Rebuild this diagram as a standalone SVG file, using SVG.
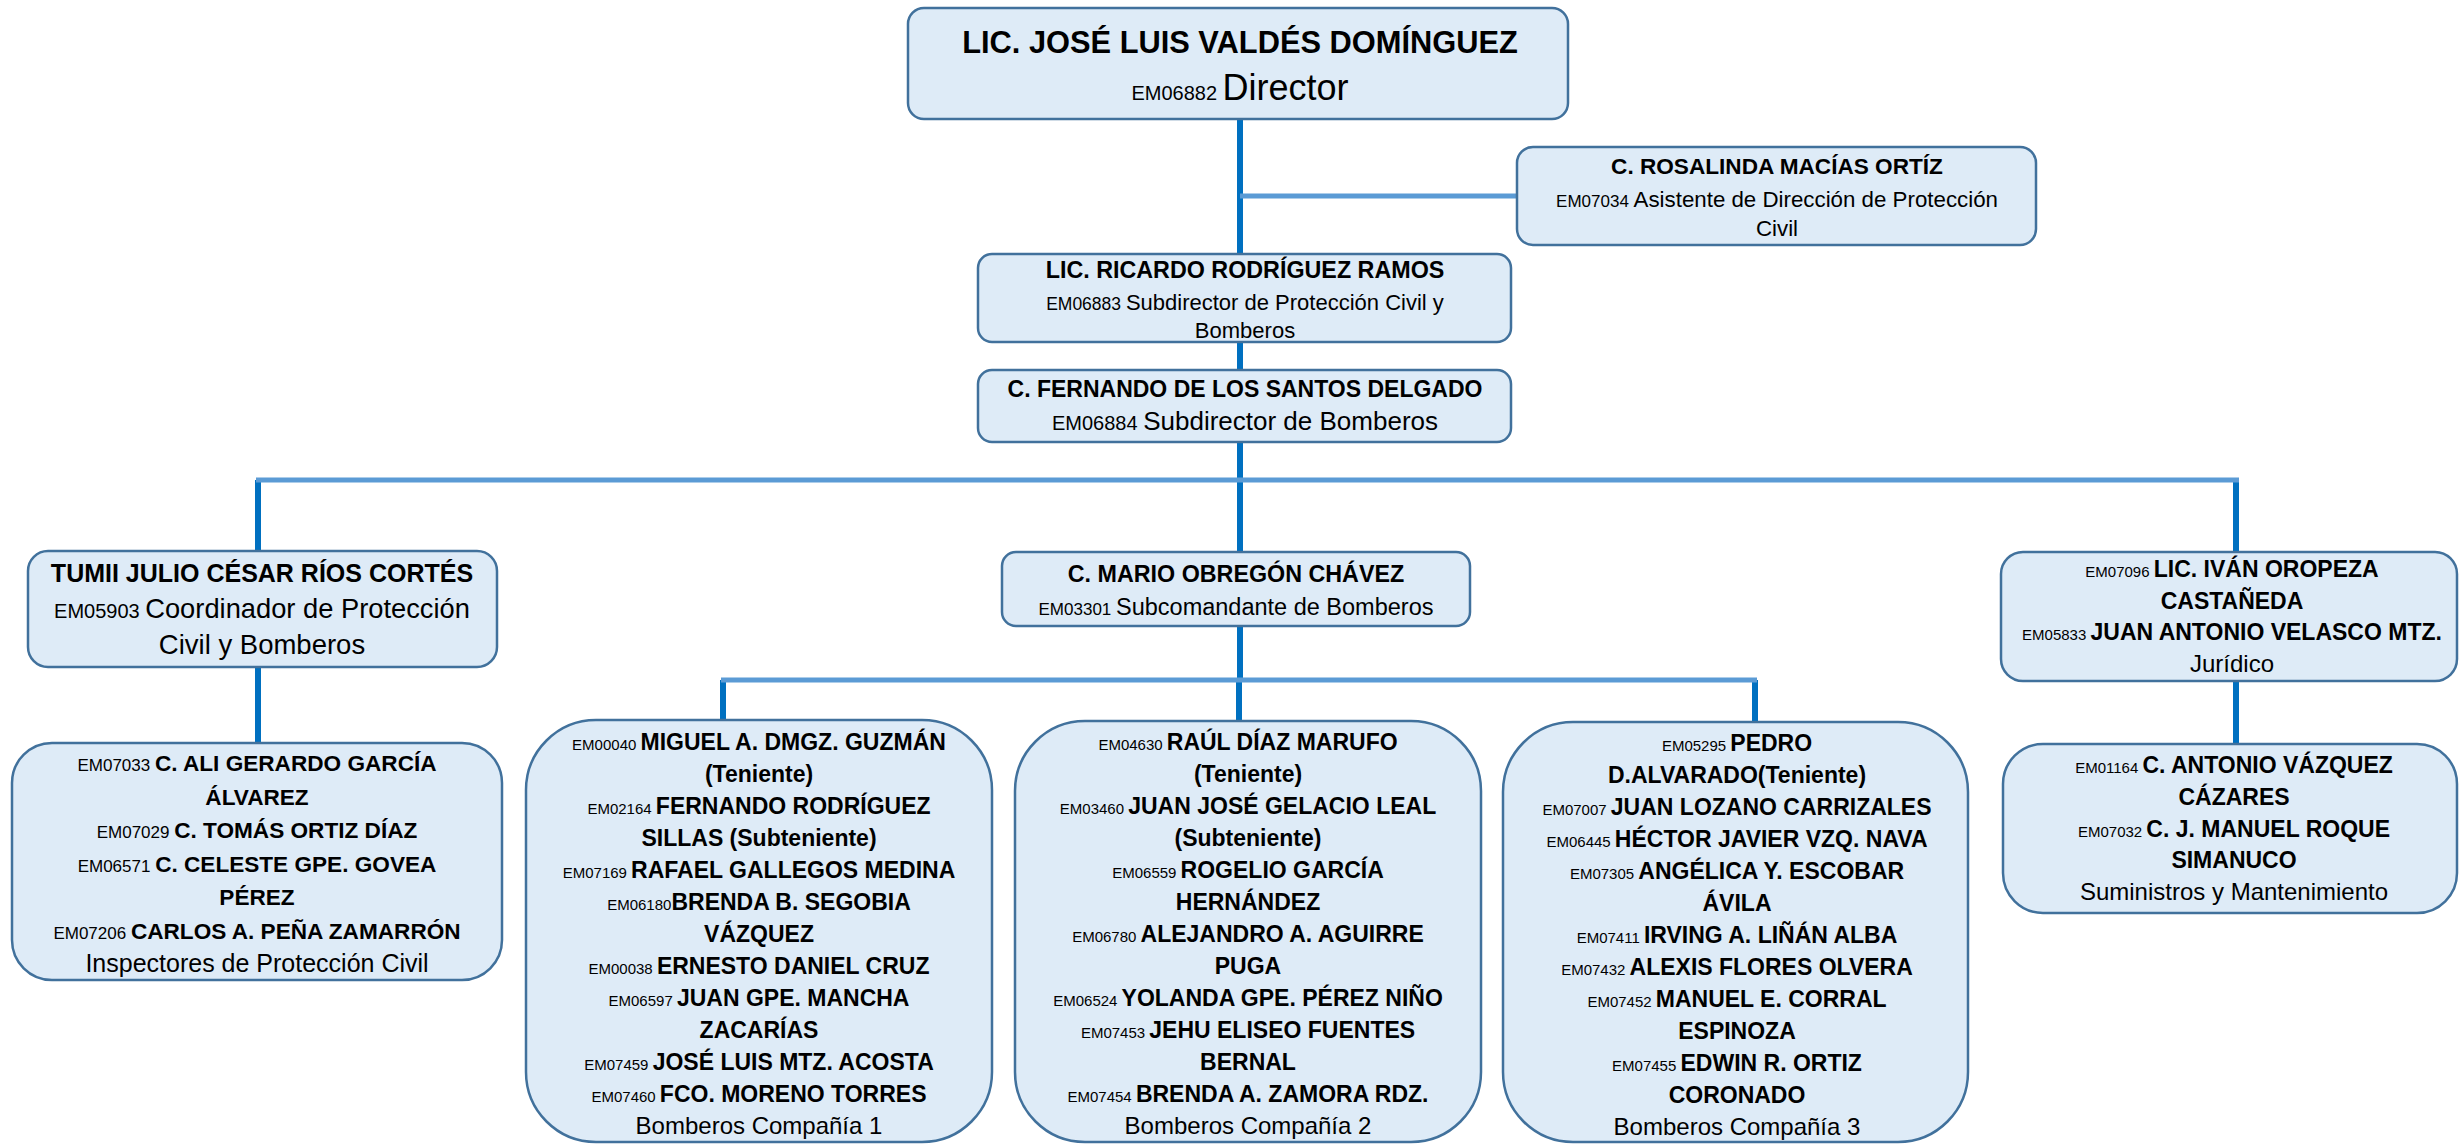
<svg xmlns="http://www.w3.org/2000/svg" width="2459" height="1145" viewBox="0 0 2459 1145">
<style>
.box{fill:#DEEBF7;stroke:#41719C;stroke-width:2.5}
text{font-family:'Liberation Sans',Arial,sans-serif;fill:#000;text-anchor:middle}
.b{font-weight:bold}
.dk{stroke:#0070C0;stroke-width:6;fill:none}
.lt{stroke:#5B9BD5;stroke-width:5;fill:none}
</style>
<rect width="2459" height="1145" fill="#fff"/>
<g id="connectors">
<path class="dk" d="M1240 119V254M1240 342V370M1240 442V552M258 480V551M2236 480V552M258 667V743M2236 681V744M1240 626V680M723 680V720M1239 680V721M1755 680V722"/>
<path class="lt" d="M1240 196H1517M256 480H2239M721 680H1757"/>
</g>
<g id="director">
<rect class="box" x="908" y="8" width="660" height="111" rx="16"/>
<text x="1240" y="53" class="b" font-size="30.8">LIC. JOSÉ LUIS VALDÉS DOMÍNGUEZ</text>
<text x="1240" y="100"><tspan font-size="20">EM06882 </tspan><tspan font-size="36">Director</tspan></text>
</g>
<g id="asistente">
<rect class="box" x="1517" y="147" width="519" height="98" rx="16"/>
<text x="1777" y="174" class="b" font-size="22.6">C. ROSALINDA MACÍAS ORTÍZ</text>
<text x="1777" y="207"><tspan font-size="17">EM07034 </tspan><tspan font-size="22.3">Asistente de Dirección de Protección</tspan></text>
<text x="1777" y="236" font-size="22.3">Civil</text>
</g>
<g id="subdirector-pc">
<rect class="box" x="978" y="254" width="533" height="88" rx="14"/>
<text x="1245" y="278" class="b" font-size="23.3">LIC. RICARDO RODRÍGUEZ RAMOS</text>
<text x="1245" y="310"><tspan font-size="17.5">EM06883 </tspan><tspan font-size="22">Subdirector de Protección Civil y</tspan></text>
<text x="1245" y="338" font-size="22">Bomberos</text>
</g>
<g id="subdirector-bomberos">
<rect class="box" x="978" y="370" width="533" height="72" rx="14"/>
<text x="1245" y="397" class="b" font-size="23">C. FERNANDO DE LOS SANTOS DELGADO</text>
<text x="1245" y="430"><tspan font-size="20">EM06884 </tspan><tspan font-size="26">Subdirector de Bomberos</tspan></text>
</g>
<g id="coordinador">
<rect class="box" x="28" y="551" width="469" height="116" rx="20"/>
<text x="262" y="582" class="b" font-size="25">TUMII JULIO CÉSAR RÍOS CORTÉS</text>
<text x="262" y="618"><tspan font-size="20">EM05903 </tspan><tspan font-size="27.3">Coordinador de Protección</tspan></text>
<text x="262" y="654" font-size="27.5">Civil y Bomberos</text>
</g>
<g id="inspectores">
<rect class="box" x="12" y="743" width="490" height="237" rx="40"/>
<text x="257" y="771"><tspan font-size="17">EM07033 </tspan><tspan class="b" font-size="22.6">C. ALI GERARDO GARCÍA</tspan></text>
<text x="257" y="804.5" class="b" font-size="22.6">ÁLVAREZ</text>
<text x="257" y="838"><tspan font-size="17">EM07029 </tspan><tspan class="b" font-size="22.6">C. TOMÁS ORTIZ DÍAZ</tspan></text>
<text x="257" y="871.5"><tspan font-size="17">EM06571 </tspan><tspan class="b" font-size="22.6">C. CELESTE GPE. GOVEA</tspan></text>
<text x="257" y="905" class="b" font-size="22.6">PÉREZ</text>
<text x="257" y="938.5"><tspan font-size="17">EM07206 </tspan><tspan class="b" font-size="22.6">CARLOS A. PEÑA ZAMARRÓN</tspan></text>
<text x="257" y="972" font-size="25">Inspectores de Protección Civil</text>
</g>
<g id="subcomandante">
<rect class="box" x="1002" y="552" width="468" height="74" rx="14"/>
<text x="1236" y="582" class="b" font-size="23.3">C. MARIO OBREGÓN CHÁVEZ</text>
<text x="1236" y="615"><tspan font-size="17">EM03301 </tspan><tspan font-size="23.5">Subcomandante de Bomberos</tspan></text>
</g>
<g id="compania1">
<rect class="box" x="526" y="720" width="466" height="422" rx="70"/>
<text x="759" y="750"><tspan font-size="15">EM00040 </tspan><tspan class="b" font-size="23">MIGUEL A. DMGZ. GUZMÁN</tspan></text>
<text x="759" y="782" class="b" font-size="23">(Teniente)</text>
<text x="759" y="814"><tspan font-size="15">EM02164 </tspan><tspan class="b" font-size="23">FERNANDO RODRÍGUEZ</tspan></text>
<text x="759" y="846" class="b" font-size="23">SILLAS (Subteniente)</text>
<text x="759" y="878"><tspan font-size="15">EM07169 </tspan><tspan class="b" font-size="23">RAFAEL GALLEGOS MEDINA</tspan></text>
<text x="759" y="910"><tspan font-size="15">EM06180</tspan><tspan class="b" font-size="23">BRENDA B. SEGOBIA</tspan></text>
<text x="759" y="942" class="b" font-size="23">VÁZQUEZ</text>
<text x="759" y="974"><tspan font-size="15">EM00038 </tspan><tspan class="b" font-size="23">ERNESTO DANIEL CRUZ</tspan></text>
<text x="759" y="1006"><tspan font-size="15">EM06597 </tspan><tspan class="b" font-size="23">JUAN GPE. MANCHA</tspan></text>
<text x="759" y="1038" class="b" font-size="23">ZACARÍAS</text>
<text x="759" y="1070"><tspan font-size="15">EM07459 </tspan><tspan class="b" font-size="23">JOSÉ LUIS MTZ. ACOSTA</tspan></text>
<text x="759" y="1102"><tspan font-size="15">EM07460 </tspan><tspan class="b" font-size="23">FCO. MORENO TORRES</tspan></text>
<text x="759" y="1134" font-size="24">Bomberos Compañía 1</text>
</g>
<g id="compania2">
<rect class="box" x="1015" y="721" width="466" height="421" rx="70"/>
<text x="1248" y="750"><tspan font-size="15">EM04630 </tspan><tspan class="b" font-size="23">RAÚL DÍAZ MARUFO</tspan></text>
<text x="1248" y="782" class="b" font-size="23">(Teniente)</text>
<text x="1248" y="814"><tspan font-size="15">EM03460 </tspan><tspan class="b" font-size="23">JUAN JOSÉ GELACIO LEAL</tspan></text>
<text x="1248" y="846" class="b" font-size="23">(Subteniente)</text>
<text x="1248" y="878"><tspan font-size="15">EM06559 </tspan><tspan class="b" font-size="23">ROGELIO GARCÍA</tspan></text>
<text x="1248" y="910" class="b" font-size="23">HERNÁNDEZ</text>
<text x="1248" y="942"><tspan font-size="15">EM06780 </tspan><tspan class="b" font-size="23">ALEJANDRO A. AGUIRRE</tspan></text>
<text x="1248" y="974" class="b" font-size="23">PUGA</text>
<text x="1248" y="1006"><tspan font-size="15">EM06524 </tspan><tspan class="b" font-size="23">YOLANDA GPE. PÉREZ NIÑO</tspan></text>
<text x="1248" y="1038"><tspan font-size="15">EM07453 </tspan><tspan class="b" font-size="23">JEHU ELISEO FUENTES</tspan></text>
<text x="1248" y="1070" class="b" font-size="23">BERNAL</text>
<text x="1248" y="1102"><tspan font-size="15">EM07454 </tspan><tspan class="b" font-size="23">BRENDA A. ZAMORA RDZ.</tspan></text>
<text x="1248" y="1134" font-size="24">Bomberos Compañía 2</text>
</g>
<g id="compania3">
<rect class="box" x="1503" y="722" width="465" height="420" rx="70"/>
<text x="1737" y="751"><tspan font-size="15">EM05295 </tspan><tspan class="b" font-size="23">PEDRO</tspan></text>
<text x="1737" y="783" class="b" font-size="23">D.ALVARADO(Teniente)</text>
<text x="1737" y="815"><tspan font-size="15">EM07007 </tspan><tspan class="b" font-size="23">JUAN LOZANO CARRIZALES</tspan></text>
<text x="1737" y="847"><tspan font-size="15">EM06445 </tspan><tspan class="b" font-size="23">HÉCTOR JAVIER VZQ. NAVA</tspan></text>
<text x="1737" y="879"><tspan font-size="15">EM07305 </tspan><tspan class="b" font-size="23">ANGÉLICA Y. ESCOBAR</tspan></text>
<text x="1737" y="911" class="b" font-size="23">ÁVILA</text>
<text x="1737" y="943"><tspan font-size="15">EM07411 </tspan><tspan class="b" font-size="23">IRVING A. LIÑÁN ALBA</tspan></text>
<text x="1737" y="975"><tspan font-size="15">EM07432 </tspan><tspan class="b" font-size="23">ALEXIS FLORES OLVERA</tspan></text>
<text x="1737" y="1007"><tspan font-size="15">EM07452 </tspan><tspan class="b" font-size="23">MANUEL E. CORRAL</tspan></text>
<text x="1737" y="1039" class="b" font-size="23">ESPINOZA</text>
<text x="1737" y="1071"><tspan font-size="15">EM07455 </tspan><tspan class="b" font-size="23">EDWIN R. ORTIZ</tspan></text>
<text x="1737" y="1103" class="b" font-size="23">CORONADO</text>
<text x="1737" y="1135" font-size="24">Bomberos Compañía 3</text>
</g>
<g id="juridico">
<rect class="box" x="2001" y="552" width="456" height="129" rx="22"/>
<text x="2232" y="577"><tspan font-size="15">EM07096 </tspan><tspan class="b" font-size="23">LIC. IVÁN OROPEZA</tspan></text>
<text x="2232" y="609" class="b" font-size="23">CASTAÑEDA</text>
<text x="2232" y="640"><tspan font-size="15">EM05833 </tspan><tspan class="b" font-size="23">JUAN ANTONIO VELASCO MTZ.</tspan></text>
<text x="2232" y="672" font-size="24">Jurídico</text>
</g>
<g id="suministros">
<rect class="box" x="2003" y="744" width="454" height="169" rx="40"/>
<text x="2234" y="773"><tspan font-size="15">EM01164 </tspan><tspan class="b" font-size="23">C. ANTONIO VÁZQUEZ</tspan></text>
<text x="2234" y="805" class="b" font-size="23">CÁZARES</text>
<text x="2234" y="837"><tspan font-size="15">EM07032 </tspan><tspan class="b" font-size="23">C. J. MANUEL ROQUE</tspan></text>
<text x="2234" y="868" class="b" font-size="23">SIMANUCO</text>
<text x="2234" y="900" font-size="24">Suministros y Mantenimiento</text>
</g>
</svg>
